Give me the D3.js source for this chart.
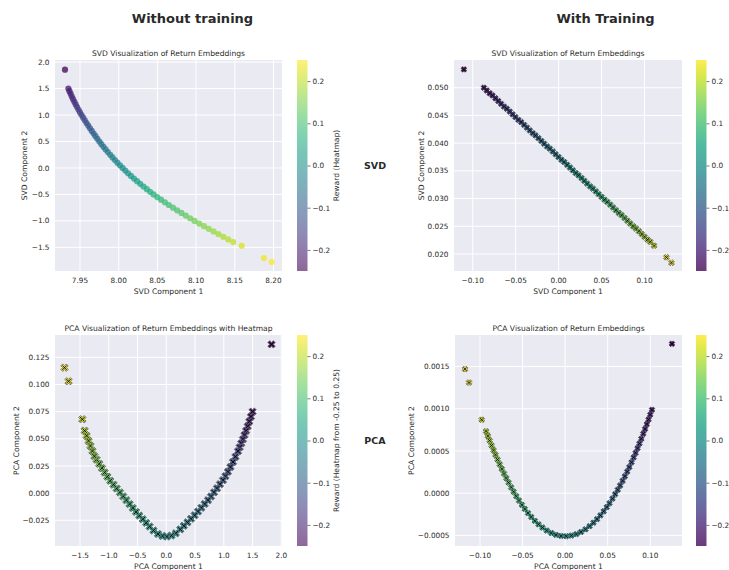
<!DOCTYPE html>
<html>
<head>
<meta charset="utf-8">
<script src="https://cdn.jsdelivr.net/npm/d3@7"></script>
<style>
  body { margin: 0; background: #fff; }
  text { font-family: "DejaVu Sans", sans-serif; fill: #2a2a2a; }
</style>
</head>
<body>
<div id="chart"></div>
<script>
// reward of each return (colour), shared by the four embeddings
var rewards = [-0.25,
  -0.220,-0.213,-0.206,-0.198,-0.191,-0.184,-0.177,-0.169,-0.162,-0.155,-0.148,-0.140,-0.133,-0.126,-0.119,
  -0.111,-0.104,-0.097,-0.090,-0.082,-0.075,-0.068,-0.061,-0.053,-0.046,-0.039,-0.032,-0.024,-0.017,-0.010,
  -0.003,0.005,0.012,0.019,0.026,0.034,0.041,0.048,0.055,0.063,0.070,0.077,0.084,0.092,0.099,
  0.106,0.113,0.121,0.128,0.135,0.142,0.150,0.157,0.164,0.171,0.179,0.186,0.193,0.200,
  0.22, 0.24, 0.25];

// SVD, without training
var svdX_untrained = [7.9306,
  7.9350,7.9364,7.9379,7.9394,7.9410,7.9427,7.9444,7.9462,7.9481,7.9500,7.9520,
  7.9541,7.9562,7.9584,7.9606,7.9629,7.9652,7.9676,7.9700,7.9724,7.9750,
  7.9776,7.9803,7.9831,7.9860,7.9890,7.9920,7.9951,7.9983,8.0016,8.0050,
  8.0085,8.0121,8.0158,8.0197,8.0237,8.0278,8.0320,8.0363,8.0406,8.0450,
  8.0498,8.0547,8.0597,8.0648,8.0701,8.0755,8.0810,8.0866,8.0923,8.0980,
  8.1040,8.1101,8.1163,8.1225,8.1288,8.1351,8.1415,8.1480,
  8.1589, 8.1877, 8.1977];
var svdY_untrained = [1.858,
  1.50,1.45,1.40,1.35,1.30,1.25,1.20,1.15,1.10,1.05,1.00,
  0.95,0.90,0.85,0.80,0.75,0.70,0.65,0.60,0.55,0.50,
  0.45,0.40,0.35,0.30,0.25,0.20,0.15,0.10,0.05,0.00,
  -0.05,-0.10,-0.15,-0.20,-0.25,-0.30,-0.35,-0.40,-0.45,-0.50,
  -0.55,-0.60,-0.65,-0.70,-0.75,-0.80,-0.85,-0.90,-0.95,-1.00,
  -1.05,-1.10,-1.15,-1.20,-1.25,-1.30,-1.35,-1.40,
  -1.470, -1.702, -1.777];

// SVD, with training
var svdX_trained = [-0.1103,
  -0.0870,-0.0837,-0.0803,-0.0770,-0.0736,-0.0703,-0.0670,-0.0636,-0.0603,-0.0569,
  -0.0536,-0.0503,-0.0469,-0.0436,-0.0402,-0.0369,-0.0336,-0.0302,-0.0269,-0.0235,
  -0.0202,-0.0169,-0.0135,-0.0102,-0.0068,-0.0035,-0.0002,0.0032,0.0065,0.0099,
  0.0132,0.0165,0.0199,0.0232,0.0266,0.0299,0.0332,0.0366,0.0399,0.0433,
  0.0466,0.0499,0.0533,0.0566,0.0600,0.0633,0.0666,0.0700,0.0733,0.0767,
  0.0800,0.0833,0.0867,0.0900,0.0934,0.0967,0.1000,0.1034,0.1067,
  0.1111, 0.1255, 0.1313];
var svdY_trained = [0.0533,
  0.0500,0.0495,0.0490,0.0486,0.0481,0.0476,0.0471,0.0466,0.0462,0.0457,
  0.0452,0.0447,0.0442,0.0438,0.0433,0.0428,0.0423,0.0418,0.0414,0.0409,
  0.0404,0.0399,0.0394,0.0390,0.0385,0.0380,0.0375,0.0370,0.0366,0.0361,
  0.0356,0.0351,0.0346,0.0342,0.0337,0.0332,0.0327,0.0322,0.0318,0.0313,
  0.0308,0.0303,0.0298,0.0294,0.0289,0.0284,0.0279,0.0274,0.0270,0.0265,
  0.0260,0.0255,0.0250,0.0246,0.0241,0.0236,0.0231,0.0226,0.0222,
  0.0215, 0.0194, 0.0184];

// PCA, without training
var pcaX_untrained = [1.83,
  1.500,1.472,1.444,1.416,1.388,1.360,1.332,1.304,1.276,
  1.247,1.203,1.160,1.116,1.072,1.029,
  0.985,0.933,0.881,0.829,0.777,
  0.725,0.667,0.609,0.551,0.493,
  0.430,0.368,0.305,0.243,0.165,0.088,0.010,
  -0.068,-0.145,-0.223,-0.290,-0.350,-0.410,-0.470,
  -0.527,-0.583,-0.639,-0.695,-0.750,-0.806,-0.862,-0.918,-0.974,
  -1.025,-1.072,-1.119,-1.166,-1.212,-1.250,-1.284,-1.318,-1.352,-1.386,-1.420,
  -1.46, -1.70, -1.77];
var pcaY_untrained = [0.137,
  0.0750,0.0704,0.0659,0.0615,0.0574,0.0534,0.0495,0.0458,0.0422,
  0.0386,0.0335,0.0287,0.0241,0.0197,0.0156,
  0.0119,0.0082,0.0044,0.0007,-0.0031,
  -0.0065,-0.0100,-0.0135,-0.0169,-0.0204,
  -0.0236,-0.0269,-0.0301,-0.0334,-0.0370,-0.0391,-0.0400,
  -0.0395,-0.0376,-0.0344,-0.0308,-0.0274,-0.0240,-0.0207,
  -0.0173,-0.0137,-0.0101,-0.0065,-0.0030,0.0006,0.0042,0.0078,0.0113,
  0.0151,0.0190,0.0230,0.0269,0.0308,0.0340,0.0387,0.0434,0.0481,0.0528,0.0575,
  0.068, 0.103, 0.1155];

// PCA, with training
var pcaX_trained = [0.1255,
  0.1020,0.1000,0.0980,0.0960,0.0939,0.0918,0.0895,0.0873,0.0851,0.0828,
  0.0805,0.0780,0.0754,0.0729,0.0702,0.0675,0.0646,0.0618,0.0588,0.0556,
  0.0521,0.0489,0.0453,0.0414,0.0375,0.0333,0.0287,0.0239,0.0186,0.0132,
  0.0073,0.0013,-0.0047,-0.0107,-0.0162,-0.0216,-0.0267,-0.0313,-0.0356,-0.0398,
  -0.0436,-0.0474,-0.0508,-0.0542,-0.0574,-0.0605,-0.0634,-0.0664,-0.0691,-0.0718,
  -0.0744,-0.0769,-0.0794,-0.0818,-0.0841,-0.0864,-0.0887,-0.0908,-0.0929,
  -0.0980, -0.1129, -0.1176];
var pcaY_trained = [0.00177,
  0.000988,0.000930,0.000873,0.000817,0.000760,0.000704,0.000644,0.000588,0.000533,0.000477,
  0.000423,0.000366,0.000309,0.000255,0.000200,0.000146,0.000091,0.000040,-0.000012,-0.000065,
  -0.000119,-0.000166,-0.000215,-0.000263,-0.000308,-0.000350,-0.000391,-0.000428,-0.000460,-0.000485,
  -0.000502,-0.000510,-0.000507,-0.000494,-0.000472,-0.000443,-0.000407,-0.000369,-0.000328,-0.000282,
  -0.000236,-0.000187,-0.000138,-0.000087,-0.000036,0.000017,0.000069,0.000125,0.000178,0.000232,
  0.000287,0.000342,0.000398,0.000454,0.000509,0.000565,0.000623,0.000677,0.000733,
  0.00087, 0.00131, 0.00147];

// tick labels
var svdXTicks_untrained = [7.95, 8.00, 8.05, 8.10, 8.15, 8.20];
var svdYTicks_untrained = [-1.5, -1.0, -0.5, 0.0, 0.5, 1.0, 1.5, 2.0];
var svdXTicks_trained = [-0.10, -0.05, 0.00, 0.05, 0.10];
var svdYTicks_trained = [0.020, 0.025, 0.030, 0.035, 0.040, 0.045, 0.050];
var pcaXTicks_untrained = [-1.5, -1.0, -0.5, 0.0, 0.5, 1.0, 1.5, 2.0];
var pcaYTicks_untrained = [-0.025, 0.000, 0.025, 0.050, 0.075, 0.100, 0.125];
var pcaXTicks_trained = [-0.10, -0.05, 0.00, 0.05, 0.10];
var pcaYTicks_trained = [-0.0005, 0.0000, 0.0005, 0.0010, 0.0015];
var colorbarTicks = [-0.2, -0.1, 0.0, 0.1, 0.2];

var width = 729, height = 570;

var svg = d3.select("#chart").append("svg")
    .attr("width", width)
    .attr("height", height);

var color = d3.scaleSequential(d3.interpolateViridis).domain([-0.25, 0.25]);

// filled "X" marker, a plus rotated by 45 degrees
function xMarker(L, w) {
    return "M" + (-w) + "," + (-L) + "L" + w + "," + (-L) + "L" + w + "," + (-w) +
        "L" + L + "," + (-w) + "L" + L + "," + w + "L" + w + "," + w +
        "L" + w + "," + L + "L" + (-w) + "," + L + "L" + (-w) + "," + w +
        "L" + (-L) + "," + w + "L" + (-L) + "," + (-w) + "L" + (-w) + "," + (-w) + "Z";
}
// thin line "x" drawn on top
function xLines(s) {
    return "M" + (-s) + "," + (-s) + "L" + s + "," + s + "M" + (-s) + "," + s + "L" + s + "," + (-s);
}

var panels = [
    {xs: svdX_untrained, ys: svdY_untrained, xDom: [7.9177, 8.211], yDom: [-1.947, 2.04],
     xTicks: svdXTicks_untrained, yTicks: svdYTicks_untrained, xFmt: ".2f", yFmt: ".1f",
     box: {l: 55, r: 282, t: 60, b: 271}, cbX: 297, cbAlpha: 0.6, ylabX: 24,
     title: "SVD Visualization of Return Embeddings", xlab: "SVD Component 1", ylab: "SVD Component 2",
     cbLabel: "Reward (Heatmap)", marker: "circle"},
    {xs: svdX_trained, ys: svdY_trained, xDom: [-0.1218, 0.1436], yDom: [0.01693, 0.055],
     xTicks: svdXTicks_trained, yTicks: svdYTicks_trained, xFmt: ".2f", yFmt: ".3f",
     box: {l: 454, r: 682, t: 60, b: 271}, cbX: 696, cbAlpha: 0.78, ylabX: 421,
     title: "SVD Visualization of Return Embeddings", xlab: "SVD Component 1", ylab: "SVD Component 2",
     cbLabel: null, marker: "small"},
    {xs: pcaX_untrained, ys: pcaY_untrained, xDom: [-1.9355, 2.012], yDom: [-0.0487, 0.1456],
     xTicks: pcaXTicks_untrained, yTicks: pcaYTicks_untrained, xFmt: ".1f", yFmt: ".3f",
     box: {l: 55, r: 282, t: 335, b: 546}, cbX: 297, cbAlpha: 0.6, ylabX: 16,
     title: "PCA Visualization of Return Embeddings with Heatmap", xlab: "PCA Component 1", ylab: "PCA Component 2",
     cbLabel: "Reward (Heatmap from -0.25 to 0.25)", marker: "big"},
    {xs: pcaX_trained, ys: pcaY_trained, xDom: [-0.1294, 0.1373], yDom: [-0.000626, 0.001874],
     xTicks: pcaXTicks_trained, yTicks: pcaYTicks_trained, xFmt: ".2f", yFmt: ".4f",
     box: {l: 455, r: 682, t: 335, b: 546}, cbX: 696, cbAlpha: 0.78, ylabX: 411,
     title: "PCA Visualization of Return Embeddings", xlab: "PCA Component 1", ylab: "PCA Component 2",
     cbLabel: null, marker: "small"}
];

panels.forEach(function(p, pi) {
    var b = p.box;
    var x = d3.scaleLinear().domain(p.xDom).range([b.l, b.r]);
    var y = d3.scaleLinear().domain(p.yDom).range([b.b, b.t]);
    var g = svg.append("g");

    g.append("rect")
        .attr("x", b.l).attr("y", b.t)
        .attr("width", b.r - b.l).attr("height", b.b - b.t)
        .attr("fill", "#eaeaf2");

    //grid
    g.selectAll(".vgrid").data(p.xTicks).enter().append("line")
        .attr("x1", function(d) { return x(d); }).attr("x2", function(d) { return x(d); })
        .attr("y1", b.t).attr("y2", b.b)
        .attr("stroke", "#fff").attr("stroke-width", 1);
    g.selectAll(".hgrid").data(p.yTicks).enter().append("line")
        .attr("y1", function(d) { return y(d); }).attr("y2", function(d) { return y(d); })
        .attr("x1", b.l).attr("x2", b.r)
        .attr("stroke", "#fff").attr("stroke-width", 1);

    //tick labels
    var fx = d3.format(p.xFmt), fy = d3.format(p.yFmt);
    g.selectAll(".xt").data(p.xTicks).enter().append("text")
        .attr("x", function(d) { return x(d); })
        .attr("y", b.b + 11.5)
        .attr("text-anchor", "middle")
        .attr("font-size", "7.3px")
        .text(function(d) { return fx(d); });
    g.selectAll(".yt").data(p.yTicks).enter().append("text")
        .attr("x", b.l - 5.5)
        .attr("y", function(d) { return y(d) + 2.6; })
        .attr("text-anchor", "end")
        .attr("font-size", "7.3px")
        .text(function(d) { return fy(d); });

    //titles and axis labels
    g.append("text")
        .attr("x", (b.l + b.r) / 2).attr("y", b.t - 4.5)
        .attr("text-anchor", "middle").attr("font-size", "7.6px")
        .text(p.title);
    g.append("text")
        .attr("x", (b.l + b.r) / 2).attr("y", b.b + 22.5)
        .attr("text-anchor", "middle").attr("font-size", "7.6px")
        .text(p.xlab);
    g.append("text")
        .attr("transform", "translate(" + (p.ylabX + 2.7) + "," + ((b.t + b.b) / 2) + ") rotate(-90)")
        .attr("text-anchor", "middle").attr("font-size", "7.6px")
        .text(p.ylab);

    //points
    var idx = d3.range(p.xs.length);
    if (p.marker === "circle") {
        g.selectAll(".pt").data(idx).enter().append("circle")
            .attr("cx", function(i) { return x(p.xs[i]); })
            .attr("cy", function(i) { return y(p.ys[i]); })
            .attr("r", 3.1)
            .attr("fill", function(i) { return color(rewards[i]); })
            .attr("fill-opacity", 0.75);
    } else {
        var big = p.marker === "big";
        var pts = g.selectAll(".pt").data(idx).enter().append("g")
            .attr("transform", function(i) {
                return "translate(" + x(p.xs[i]) + "," + y(p.ys[i]) + ")";
            });
        pts.append("path")
            .attr("d", big ? xMarker(3.9, 1.35) : xMarker(2.9, 1.2))
            .attr("transform", "rotate(45)")
            .attr("fill", function(i) { return color(rewards[i]); })
            .attr("fill-opacity", 0.9)
            .attr("stroke", big ? "#666" : "#222")
            .attr("stroke-width", big ? 0.8 : 0.5);
        pts.append("path")
            .attr("d", big ? xLines(2.2) : xLines(1.7))
            .attr("stroke", "#000")
            .attr("stroke-width", big ? 0.9 : 0.8)
            .attr("fill", "none");
    }

    //colorbar
    var cb = d3.scaleLinear().domain([-0.25, 0.25]).range([b.b, b.t]);
    var gradId = "grad" + pi;
    var grad = svg.append("defs").append("linearGradient")
        .attr("id", gradId)
        .attr("x1", "0").attr("y1", "1").attr("x2", "0").attr("y2", "0");
    d3.range(0, 1.0001, 0.05).forEach(function(t) {
        grad.append("stop")
            .attr("offset", t)
            .attr("stop-color", d3.interpolateViridis(t));
    });
    g.append("rect")
        .attr("x", p.cbX).attr("y", b.t)
        .attr("width", 10.5).attr("height", b.b - b.t)
        .attr("fill", "url(#" + gradId + ")")
        .attr("fill-opacity", p.cbAlpha);

    var cbAxis = d3.axisRight(cb)
        .tickValues(colorbarTicks)
        .tickFormat(d3.format(".1f"))
        .tickSize(3)
        .tickPadding(2);
    var ga = g.append("g")
        .attr("transform", "translate(" + (p.cbX + 10.5) + ",0)")
        .call(cbAxis);
    ga.select(".domain").remove();
    ga.selectAll(".tick line").attr("stroke", "#444").attr("stroke-width", 0.7);
    ga.selectAll(".tick text")
        .attr("font-size", "7.3px")
        .attr("font-family", "DejaVu Sans, sans-serif")
        .attr("fill", "#2a2a2a");

    if (p.cbLabel) {
        g.append("text")
            .attr("transform", "translate(" + 338.5 + "," + ((b.t + b.b) / 2) + ") rotate(-90)")
            .attr("text-anchor", "middle").attr("font-size", "7.6px")
            .text(p.cbLabel);
    }
});

// column headings and row labels
svg.append("text").attr("x", 192.5).attr("y", 23)
    .attr("text-anchor", "middle").attr("font-size", "13px").attr("font-weight", "bold")
    .text("Without training");
svg.append("text").attr("x", 605.5).attr("y", 23)
    .attr("text-anchor", "middle").attr("font-size", "13px").attr("font-weight", "bold")
    .text("With Training");
svg.append("text").attr("x", 375).attr("y", 168.5)
    .attr("text-anchor", "middle").attr("font-size", "9.5px").attr("font-weight", "bold")
    .text("SVD");
svg.append("text").attr("x", 375).attr("y", 443.5)
    .attr("text-anchor", "middle").attr("font-size", "9.5px").attr("font-weight", "bold")
    .text("PCA");
</script>
</body>
</html>
